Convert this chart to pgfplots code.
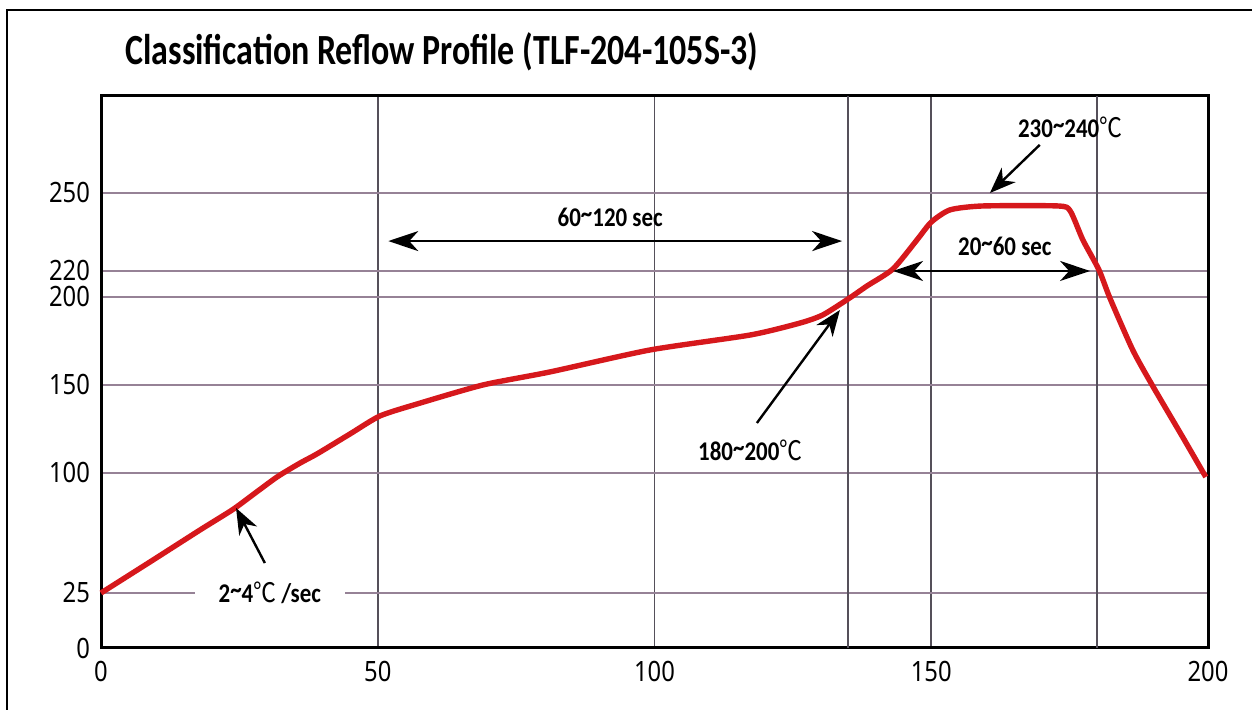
\documentclass[border=0pt]{standalone}
\usepackage{pgfplots}
\pgfplotsset{compat=1.18}
\usepackage{fontspec}
\setmainfont{Carlito}
\newfontfamily\ticksfont{Noto Sans}
\newfontfamily\cjk{Noto Sans CJK SC}
\usetikzlibrary{arrows.meta}
\definecolor{curvered}{RGB}{214,24,28}
\definecolor{hgrid}{RGB}{150,130,150}
\definecolor{vgrid}{RGB}{85,80,90}
\newcommand{\degC}{{\cjk\fontseries{m}\selectfont ℃}}
\newcommand{\tl}{\raisebox{0.3ex}{\textasciitilde}}
\newcommand{\annfont}{\fontsize{13.5}{14}\selectfont\bfseries}
\newcommand{\tk}[1]{\scalebox{0.85}[1]{#1}}
\begin{document}
\begin{tikzpicture}
\useasboundingbox (0pt,0pt) rectangle (626pt,355pt);
% outer frame (left and top)
\draw[line width=1pt] (3.5pt,0pt) -- (3.5pt,350pt) -- (626pt,350pt);
% title
\node[anchor=base west, inner sep=0pt] at (62.5pt,322.5pt)
  {\scalebox{0.79}[1]{\fontsize{21.5}{22}\selectfont\bfseries Classification Reflow Profile (TLF-204-105S-3)}};
\begin{axis}[
  at={(50.5pt,31pt)}, anchor=south west,
  scale only axis, width=553.5pt, height=276pt,
  xmin=0, xmax=200, ymin=0, ymax=287.3,
  y coord trafo/.code={\pgfmathparse{2.2*#1-0.6*max(#1-25,0)+0.16*max(#1-100,0)-0.46*max(#1-200,0)+1.3*max(#1-220,0)}},
  xtick={0,50,100,150,200}, xticklabels={\tk{0},\tk{50},\tk{100},\tk{150},\tk{200}},
  ytick={0,25,100,150,200,220,250}, yticklabels={\tk{0},\tk{25},\tk{100},\tk{150},\tk{200},\tk{220},\tk{250}},
  extra x ticks={135,180}, extra x tick labels={},
  extra x tick style={grid=major},
  grid=major,
  major x grid style={vgrid, line width=0.9pt},
  major y grid style={hgrid, line width=0.9pt},
  axis line style={black, line width=1.5pt},
  tick style={draw=none},
  tick label style={font=\ticksfont\fontsize{14}{14}\selectfont, black},
  xticklabel style={yshift=-3pt},
  yticklabel style={xshift=-2pt},
  clip=false,
]
\addplot[curvered, line width=2.7pt, smooth, tension=0.4] table {
x T
0 25
8.85 44.4
17.9 64.4
23.7 76.9
26.9 85
31.8 97.5
36.0 105.7
39.0 110.8
45.0 122.2
50.4 132.4
57.1 139.2
69.0 150
81.1 157.4
99.2 169.9
117.3 178.4
126.3 185.2
130.4 189.8
135.0 198.9
138.4 208.5
143.1 220.8
147.4 231.9
150.0 238.8
153.4 243.5
159.3 245
172.9 245
175.1 243.1
177.4 231.9
180.3 220.4
182.3 199.2
186.4 169.9
189.9 150
195.5 120
199.6 97.5
};
% label on 25 gridline (white background breaks the line)
\node[fill=white, inner xsep=12pt, inner ysep=2pt] at (axis cs:30.5,25)
  {\scalebox{0.85}[1]{\annfont 2\tl4\degC\ /sec}};
\draw[line width=1.2pt, -{Stealth[length=13pt,width=10pt,inset=4pt]}] (axis cs:29.6,43.75) -- (axis cs:24.4,78.1);
% 60~120 sec
\node at (axis cs:92,240.8) {\scalebox{0.85}[1]{\annfont 60\tl120 sec}};
\draw[line width=1.2pt, {Stealth[length=15pt,width=10pt,inset=4.5pt]}-{Stealth[length=15pt,width=10pt,inset=4.5pt]}] (axis cs:51.9,231.5) -- (axis cs:133.9,231.5);
% 20~60 sec
\node at (axis cs:163.3,229.6) {\scalebox{0.85}[1]{\annfont 20\tl60 sec}};
\draw[line width=1.2pt, {Stealth[length=15pt,width=10pt,inset=4.5pt]}-{Stealth[length=15pt,width=10pt,inset=4.5pt]}] (axis cs:143.1,220) -- (axis cs:178.7,220);
% 180~200
\node at (axis cs:117.3,113.1) {\scalebox{0.85}[1]{\annfont 180\tl200\degC}};
\draw[line width=1.2pt, -{Stealth[length=13pt,width=10pt,inset=4pt]}] (axis cs:118.5,128.4) -- (axis cs:133.5,192.6);
% 230~240
\node at (axis cs:175.1,275.4) {\scalebox{0.85}[1]{\annfont 230\tl240\degC}};
\draw[line width=1.2pt, -{Stealth[length=13pt,width=10pt,inset=4pt]}] (axis cs:169.6,268.5) -- (axis cs:160.6,250);
\end{axis}
\end{tikzpicture}
\end{document}
